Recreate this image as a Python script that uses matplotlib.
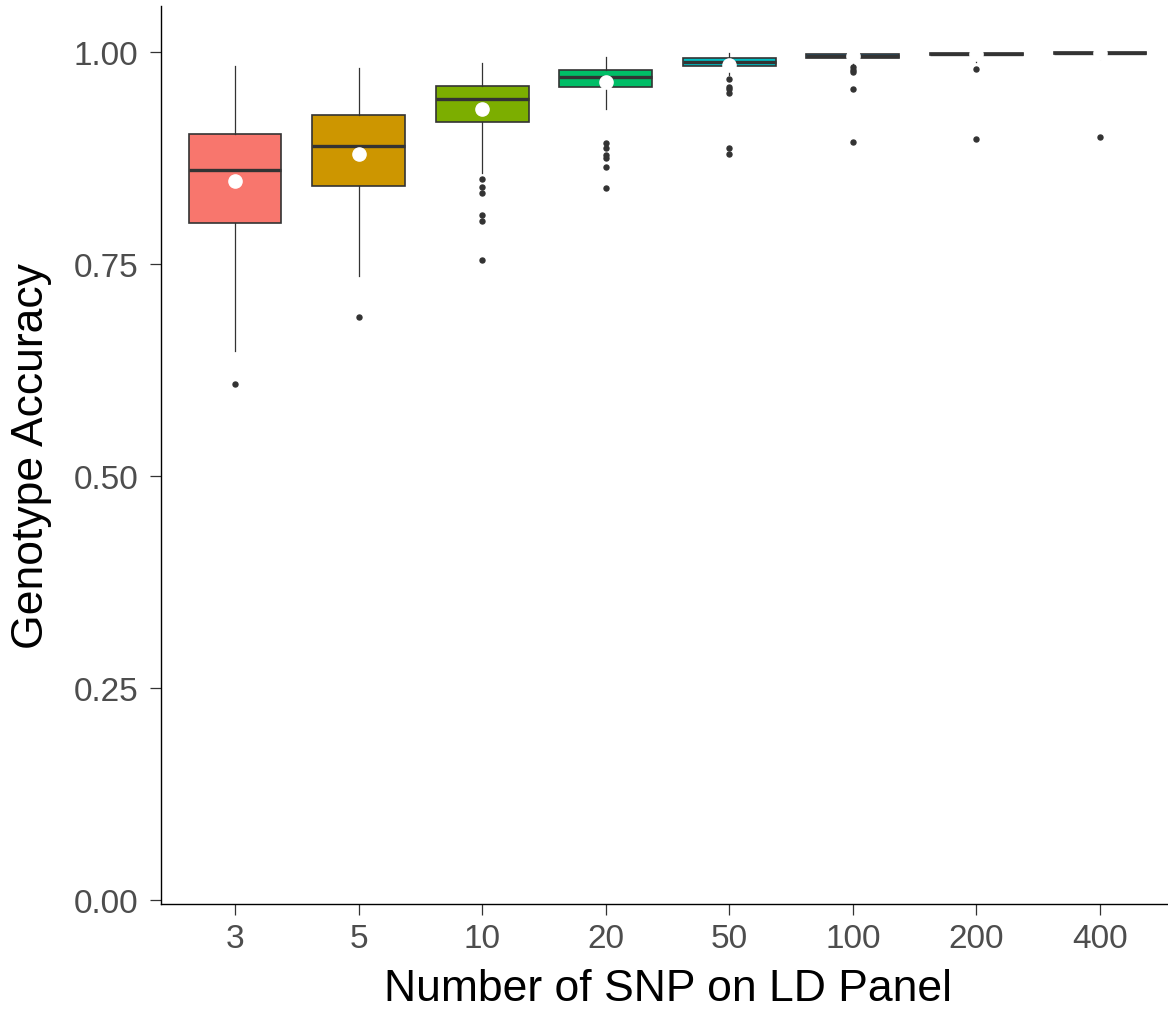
import matplotlib
matplotlib.use('Agg')
import matplotlib.pyplot as plt

plt.rcParams['font.family'] = ['Liberation Sans', 'DejaVu Sans']

# ── Summary statistics per panel size ─────────────────────────────────
panels    = ['3', '5', '10', '20', '50', '100', '200', '400']
q1        = [0.798, 0.842, 0.917, 0.959, 0.983, 0.9923, 0.9957, 0.9972]
medians   = [0.861, 0.889, 0.944, 0.970, 0.988, 0.9950, 0.9975, 0.9988]
q3        = [0.903, 0.925, 0.960, 0.979, 0.993, 0.9976, 0.9988, 1.000]
whislo    = [0.647, 0.736, 0.857, 0.932, 0.973, 0.985, 0.988, 0.991]
whishi    = [0.983, 0.981, 0.987, 0.994, 0.9988, 1.000, 1.000, 1.000]
means     = [0.848, 0.880, 0.932, 0.964, 0.985, 0.995, 0.9972, 0.9985]
outliers  = [
    [0.608],
    [0.687],
    [0.850, 0.841, 0.833, 0.808, 0.800, 0.754],
    [0.893, 0.887, 0.878, 0.875, 0.864, 0.839],
    [0.968, 0.959, 0.956, 0.951, 0.886, 0.879],
    [0.982, 0.979, 0.976, 0.956, 0.894],
    [0.980, 0.897],
    [0.899],
]

HUES  = ['#F8766D', '#CD9600', '#7CAE00', '#00BE67',
         '#00BFC4', '#00A9FF', '#C77CFF', '#FF61CC']
EDGE  = '#333333'
TICKC = '#4D4D4D'

stats = []
for i, name in enumerate(panels):
    stats.append(dict(label=name, q1=q1[i], med=medians[i], q3=q3[i],
                      whislo=whislo[i], whishi=whishi[i],
                      mean=means[i], fliers=outliers[i]))

fig = plt.figure(figsize=(11.68, 10.12), dpi=100)
ax = fig.add_axes([161 / 1168, 107 / 1012, 1013 / 1168, 898 / 1012])

pos = list(range(1, len(panels) + 1))
bp = ax.bxp(stats, positions=pos, widths=0.75, patch_artist=True,
            showcaps=False, showmeans=True,
            boxprops=dict(edgecolor=EDGE, linewidth=1.2),
            medianprops=dict(color=EDGE, linewidth=2.4),
            whiskerprops=dict(color=EDGE, linewidth=0.9),
            flierprops=dict(marker='o', markersize=3.6, markerfacecolor=EDGE,
                            markeredgecolor=EDGE, linestyle='none'),
            meanprops=dict(marker='o', markersize=9.5, markerfacecolor='white',
                           markeredgecolor='white'))
for patch, c in zip(bp['boxes'], HUES):
    patch.set_facecolor(c)

ax.set_xlim(0.4, 8.6)
ax.set_ylim(-0.005, 1.054)
ax.set_xticks(pos)
ax.set_xticklabels(panels)
ax.set_yticks([0, 0.25, 0.5, 0.75, 1.0])
ax.set_yticklabels(['0.00', '0.25', '0.50', '0.75', '1.00'])

for side in ('top', 'right'):
    ax.spines[side].set_visible(False)
for side in ('left', 'bottom'):
    ax.spines[side].set_color('black')
    ax.spines[side].set_linewidth(1.0)

ax.tick_params(axis='both', length=8, width=0.9, color=EDGE,
               labelsize=24, labelcolor=TICKC)
ax.tick_params(axis='x', pad=6)
ax.tick_params(axis='y', pad=8.5)
ax.set_xlabel('Number of SNP on LD Panel', fontsize=32, labelpad=10)
ax.set_ylabel('Genotype Accuracy', fontsize=32, labelpad=15)

fig.savefig('out.png', dpi=100, facecolor='white')
